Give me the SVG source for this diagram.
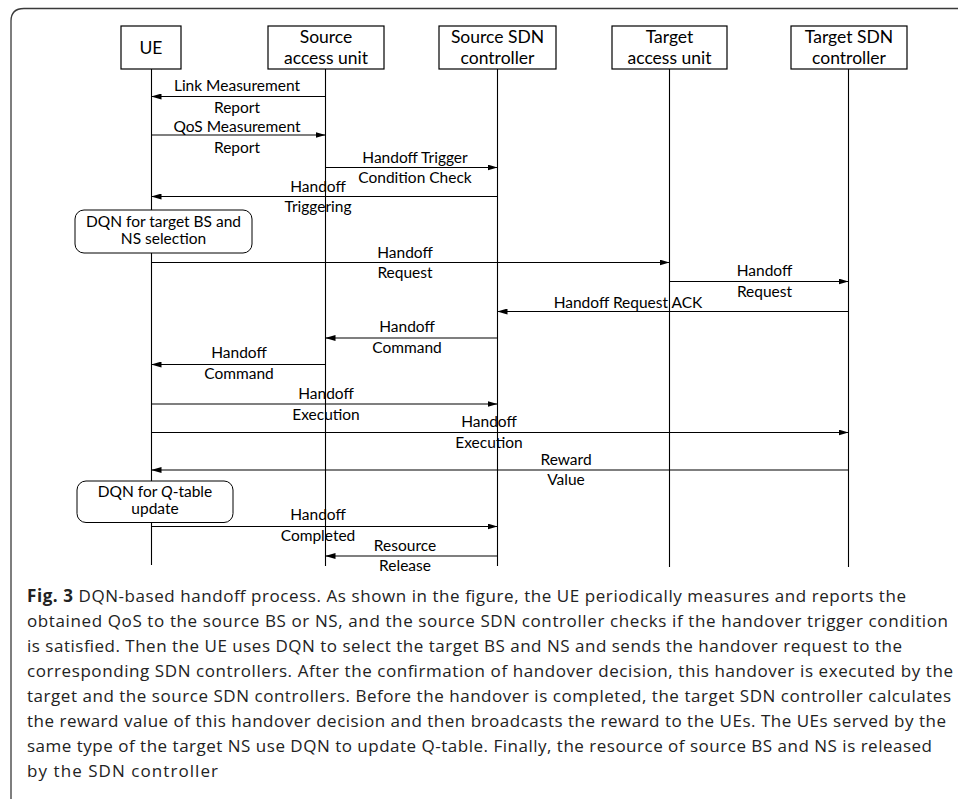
<svg xmlns="http://www.w3.org/2000/svg" width="958" height="799" viewBox="0 0 958 799">
<style>
.frame{fill:none;stroke:#3a3a3a;stroke-width:1.3}
.box{fill:#fff;stroke:#000;stroke-width:1.2}
.rbox{fill:#fff;stroke:#000;stroke-width:1}
.life{stroke:#000;stroke-width:1.1}
.msg{stroke:#000;stroke-width:1.1;fill:none;marker-end:url(#ah)}
.hd{font-family:Lato,"Open Sans",sans-serif;font-size:17.5px;fill:#000;text-anchor:middle}
.lb{font-family:Lato,"Open Sans",sans-serif;font-size:15.5px;fill:#000;text-anchor:middle}
.cap{font-family:"Open Sans","Noto Sans",sans-serif;font-size:17px;fill:#222}
.capb{font-weight:bold}
</style>
<defs>
<marker id="ah" markerUnits="userSpaceOnUse" markerWidth="10" markerHeight="6" refX="10" refY="3" orient="auto">
<path d="M0,0 L10,3 L0,6 z" fill="#000"/>
</marker>
</defs>
<rect width="958" height="799" fill="#fff"/>
<path class="frame" d="M11,799 L11,21 Q11,8.5 24,8.5 L958,8.5"/>

<g id="ue">
<line class="life" x1="151.5" y1="69" x2="151.5" y2="565"/>
<rect class="box" x="121" y="26" width="60" height="43"/>
<text class="hd" x="151" y="54">UE</text>
</g>
<g id="source-access-unit">
<line class="life" x1="325.5" y1="69" x2="325.5" y2="566"/>
<rect class="box" x="268" y="26" width="116" height="43"/>
<text class="hd" x="326" y="42.5">Source</text>
<text class="hd" x="326" y="63.5">access unit</text>
</g>
<g id="source-sdn-controller">
<line class="life" x1="497.5" y1="69" x2="497.5" y2="566"/>
<rect class="box" x="439" y="26" width="117" height="43"/>
<text class="hd" x="497.5" y="42.5">Source SDN</text>
<text class="hd" x="497.5" y="63.5">controller</text>
</g>
<g id="target-access-unit">
<line class="life" x1="669.5" y1="69" x2="669.5" y2="567"/>
<rect class="box" x="612" y="26" width="115" height="43"/>
<text class="hd" x="669.5" y="42.5">Target</text>
<text class="hd" x="669.5" y="63.5">access unit</text>
</g>
<g id="target-sdn-controller">
<line class="life" x1="848.5" y1="69" x2="848.5" y2="567"/>
<rect class="box" x="791" y="26" width="116" height="43"/>
<text class="hd" x="849" y="42.5">Target SDN</text>
<text class="hd" x="849" y="63.5">controller</text>
</g>

<g id="dqn-selection">
<rect class="rbox" x="75" y="210" width="177" height="43" rx="9"/>
<text class="lb" x="163.5" y="227">DQN for target BS and</text>
<text class="lb" x="163.5" y="244">NS selection</text>
</g>
<g id="dqn-qtable">
<rect class="rbox" x="77" y="481" width="156" height="41.5" rx="9"/>
<text class="lb" x="155" y="497">DQN for <tspan font-style="italic">Q</tspan>-table</text>
<text class="lb" x="155" y="514">update</text>
</g>

<g id="connectors">
<line class="msg" x1="325.5" y1="96.5" x2="151.5" y2="96.5"/>
<line class="msg" x1="151.5" y1="135" x2="325.5" y2="135"/>
<line class="msg" x1="325.5" y1="167.5" x2="497.5" y2="167.5"/>
<line class="msg" x1="497.5" y1="196.5" x2="151.5" y2="196.5"/>
<line class="msg" x1="151.5" y1="262.5" x2="669.5" y2="262.5"/>
<line class="msg" x1="669.5" y1="281.5" x2="848.5" y2="281.5"/>
<line class="msg" x1="848.5" y1="311.5" x2="497.5" y2="311.5"/>
<line class="msg" x1="497.5" y1="338" x2="325.5" y2="338"/>
<line class="msg" x1="325" y1="364.5" x2="151.5" y2="364.5"/>
<line class="msg" x1="151.5" y1="404" x2="497.5" y2="404"/>
<line class="msg" x1="151.5" y1="432.5" x2="848.5" y2="432.5"/>
<line class="msg" x1="848.5" y1="470" x2="151.5" y2="470"/>
<line class="msg" x1="151.5" y1="526.5" x2="497.5" y2="526.5"/>
<line class="msg" x1="497.5" y1="556" x2="325.5" y2="556"/>
</g>

<g id="labels">
<text class="lb" x="237" y="91">Link Measurement</text>
<text class="lb" x="237" y="113">Report</text>
<text class="lb" x="237" y="132">QoS Measurement</text>
<text class="lb" x="237" y="153">Report</text>
<text class="lb" x="415" y="163">Handoff Trigger</text>
<text class="lb" x="415" y="183">Condition Check</text>
<text class="lb" x="318" y="192">Handoff</text>
<text class="lb" x="318" y="212">Triggering</text>
<text class="lb" x="405" y="258">Handoff</text>
<text class="lb" x="405" y="278">Request</text>
<text class="lb" x="764.5" y="276">Handoff</text>
<text class="lb" x="764.5" y="297">Request</text>
<text class="lb" x="628" y="308">Handoff Request ACK</text>
<text class="lb" x="407" y="332">Handoff</text>
<text class="lb" x="407" y="353">Command</text>
<text class="lb" x="239" y="358">Handoff</text>
<text class="lb" x="239" y="379">Command</text>
<text class="lb" x="326" y="399">Handoff</text>
<text class="lb" x="326" y="420">Execution</text>
<text class="lb" x="489" y="427">Handoff</text>
<text class="lb" x="489" y="448">Execution</text>
<text class="lb" x="566" y="465">Reward</text>
<text class="lb" x="566" y="485">Value</text>
<text class="lb" x="318" y="520">Handoff</text>
<text class="lb" x="318" y="541">Completed</text>
<text class="lb" x="405" y="551">Resource</text>
<text class="lb" x="405" y="571">Release</text>
</g>

<g id="caption">
<text class="cap" x="27" y="602" textLength="879" lengthAdjust="spacing"><tspan class="capb">Fig. 3</tspan>  DQN-based handoff process. As shown in the figure, the UE periodically measures and reports the</text>
<text class="cap" x="27" y="627" textLength="921" lengthAdjust="spacing">obtained QoS to the source BS or NS, and the source SDN controller checks if the handover trigger condition</text>
<text class="cap" x="27" y="652" textLength="875" lengthAdjust="spacing">is satisfied. Then the UE uses DQN to select the target BS and NS and sends the handover request to the</text>
<text class="cap" x="27" y="677" textLength="926" lengthAdjust="spacing">corresponding SDN controllers. After the confirmation of handover decision, this handover is executed by the</text>
<text class="cap" x="27" y="702" textLength="924" lengthAdjust="spacing">target and the source SDN controllers. Before the handover is completed, the target SDN controller calculates</text>
<text class="cap" x="27" y="727" textLength="919" lengthAdjust="spacing">the reward value of this handover decision and then broadcasts the reward to the UEs. The UEs served by the</text>
<text class="cap" x="27" y="752" textLength="905" lengthAdjust="spacing">same type of the target NS use DQN to update Q-table. Finally, the resource of source BS and NS is released</text>
<text class="cap" x="27" y="777" textLength="191" lengthAdjust="spacing">by the SDN controller</text>
</g>
</svg>
